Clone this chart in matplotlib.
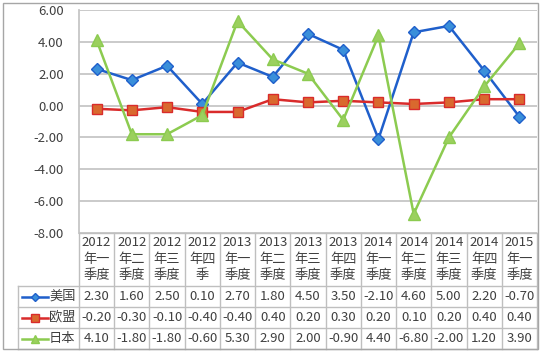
import matplotlib.pyplot as plt
from matplotlib.patches import Rectangle

plt.rcParams['font.family'] = ['Noto Sans CJK SC', 'DejaVu Sans']

quarters = ['2012\n年一\n季度', '2012\n年二\n季度', '2012\n年三\n季度', '2012\n年四\n季',
            '2013\n年一\n季度', '2013\n年二\n季度', '2013\n年三\n季度', '2013\n年四\n季度',
            '2014\n年一\n季度', '2014\n年二\n季度', '2014\n年三\n季度', '2014\n年四\n季度',
            '2015\n年一\n季度']
usa = [2.30, 1.60, 2.50, 0.10, 2.70, 1.80, 4.50, 3.50, -2.10, 4.60, 5.00, 2.20, -0.70]
eu = [-0.20, -0.30, -0.10, -0.40, -0.40, 0.40, 0.20, 0.30, 0.20, 0.10, 0.20, 0.40, 0.40]
japan = [4.10, -1.80, -1.80, -0.60, 5.30, 2.90, 2.00, -0.90, 4.40, -6.80, -2.00, 1.20, 3.90]
series_names = ['美国', '欧盟', '日本']
yticks = [6, 4, 2, 0, -2, -4, -6, -8]

W, H = 541, 352
fig = plt.figure(figsize=(W / 100, H / 100), dpi=100)

def px_rect(x0, y0, x1, y1):
    # pixel box (top-left origin) -> figure fraction rect
    return [x0 / W, 1 - y1 / H, (x1 - x0) / W, (y1 - y0) / H]

grid_c = '#C6C6C6'
text_c = '#404040'
fs = 9.5

# outer frame
fig.add_artist(Rectangle((3 / W, 1 - 349 / H), 535 / W, 346 / H, transform=fig.transFigure,
                         fill=False, edgecolor='#A6A6A6', linewidth=1))

ax = fig.add_axes(px_rect(79, 10, 537, 233))
n = len(quarters)
x = list(range(n))
ax.set_xlim(-0.5, n - 0.5)
ax.set_ylim(-8, 6)
for v in yticks:
    ax.axhline(v, color=grid_c, linewidth=1.3, zorder=0)
for s in ['top', 'right', 'bottom']:
    ax.spines[s].set_visible(False)
ax.spines['left'].set_color(grid_c)
ax.spines['left'].set_linewidth(1.3)
ax.set_xticks([])
ax.set_yticks(yticks)
ax.set_yticklabels([f'{v:.2f}' for v in yticks], color=text_c, fontsize=fs)
ax.tick_params(axis='y', length=0, pad=11)

styles = [
    dict(color='#1F5FCB', marker='D', markersize=6, markerfacecolor='#3A8FDA', markeredgecolor='#1F5FCB'),
    dict(color='#D92B2B', marker='s', markersize=7.5, markerfacecolor='#D9692E', markeredgecolor='#D92B2B'),
    dict(color='#8CCB50', marker='^', markersize=8, markerfacecolor='#9BD05E', markeredgecolor='#8CCB50'),
]
for vals, st in zip([usa, eu, japan], styles):
    ax.plot(x, vals, linewidth=1.8, clip_on=False, **st)

# data table
tab = fig.add_axes(px_rect(79, 233, 537, 349))
tab.set_xlim(-0.5, n - 0.5)
tab.set_ylim(0, 116)
tab.axis('off')
col_w = 458 / n
left_x = -0.5 - (79 - 18) / col_w
row_lines = [0, 21, 42, 63]
lw = 1.0
tc = '#BFBFBF'
tab.plot([-0.5, n - 0.5], [116, 116], color=tc, lw=lw, clip_on=False)
for yy in row_lines:
    tab.plot([left_x, n - 0.5], [yy, yy], color=tc, lw=lw, clip_on=False)
for i in range(n + 1):
    tab.plot([i - 0.5, i - 0.5], [0, 116], color=tc, lw=lw, clip_on=False)
tab.plot([left_x, left_x], [0, 63], color=tc, lw=lw, clip_on=False)

for i, q in enumerate(quarters):
    tab.text(i, 90, q, ha='center', va='center', fontsize=fs, color=text_c, linespacing=1.35)
    for r, vals in enumerate([usa, eu, japan]):
        tab.text(i, 52.5 - 21 * r, f'{vals[i]:.2f}', ha='center', va='center',
                 fontsize=fs, color=text_c)

for r, (name, st) in enumerate(zip(series_names, styles)):
    yy = 52.5 - 21 * r
    x0 = left_x + 4 / col_w
    x1 = left_x + 30 / col_w
    tab.plot([x0, x1], [yy, yy], color=st['color'], linewidth=1.8, clip_on=False)
    tab.plot([(x0 + x1) / 2], [yy], linestyle='none', clip_on=False,
             marker=st['marker'], markersize=st['markersize'] * 0.75,
             markerfacecolor=st['markerfacecolor'], markeredgecolor=st['markeredgecolor'])
    tab.text(x1 + 1 / col_w, yy, name, ha='left', va='center', fontsize=fs, color=text_c)

fig.savefig('out.png', dpi=100)
